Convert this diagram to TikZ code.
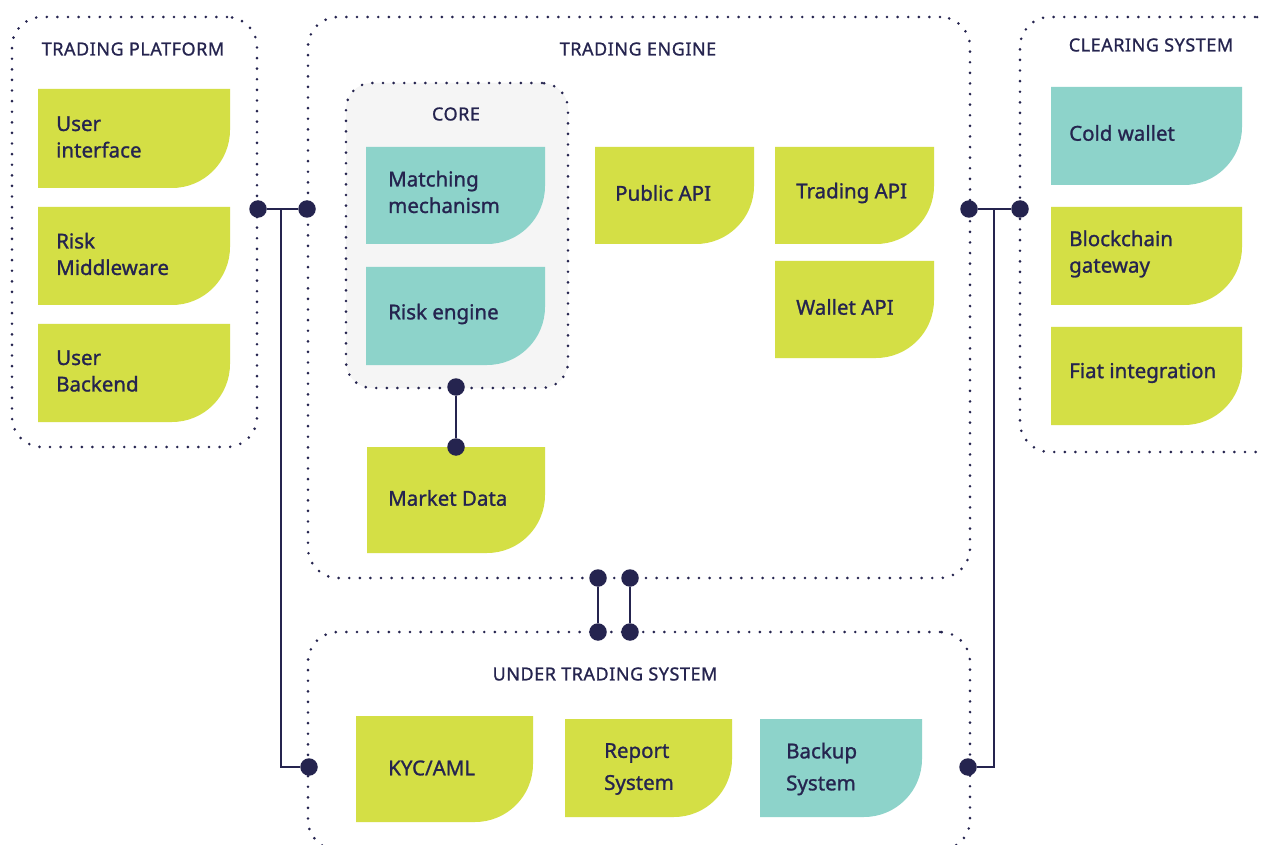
\documentclass[tikz,border=0pt]{standalone}
\usepackage{fontspec}
\setmainfont{Noto Sans}
\newfontfamily\medfont{Noto Sans}[FakeBold=1.2]
\newfontfamily\titfont{Noto Sans}[FakeBold=1.0,LetterSpace=3]
\usetikzlibrary{calc}
\definecolor{navy}{HTML}{25244F}
\definecolor{lime}{HTML}{D4DF45}
\definecolor{teal}{HTML}{8DD3CA}
\definecolor{coregray}{HTML}{F5F5F5}
\tikzset{
  cont/.style={draw=navy, line width=2.9pt, dash pattern=on 0pt off 10.6pt, line cap=round, rounded corners=30pt, inner sep=0pt},
  title/.style={text=navy, font=\titfont\fontsize{18}{22}\selectfont, inner sep=0pt},
  cardtext/.style={text=navy, font=\medfont\fontsize{20.5}{26.5}\selectfont, align=left, anchor=west, inner sep=0pt},
  widetext/.style={cardtext, font=\medfont\fontsize{20.5}{32}\selectfont},
  jdot/.style={circle, fill=navy, minimum size=17.5pt, inner sep=0pt},
  conn/.style={draw=navy, line width=2.3pt},
}
\newcommand\mycard[5]{%
  \fill[#5] (#1,#2) -- (#3,#2) -- (#3,#4-58) .. controls (#3,#4-26) and (#3-26,#4) .. (#3-58,#4) -- (#1,#4) -- cycle;}
\begin{document}
\begin{tikzpicture}[x=1pt,y=-1pt]
\useasboundingbox (0,0) rectangle (1262,845);
\clip (0,0) rectangle (1262,845);
\fill[white] (0,0) rectangle (1262,845);
% containers
\node[cont, minimum width=245pt, minimum height=430pt] (tp) at (134.5,232) {};
\node[cont, minimum width=662pt, minimum height=561pt] (te) at (639,297.5) {};
\node[cont, fill=coregray, rounded corners=26pt, minimum width=222pt, minimum height=305pt] (core) at (457,235.5) {};
\node[cont, minimum width=265pt, minimum height=435pt] (cs) at (1152.5,234.5) {};
\node[cont, minimum width=662pt, minimum height=218pt] (uts) at (639,741) {};
% titles
\node[title] (ttp) at (133,49) {TRADING PLATFORM};
\node[title] (tte) at (638,49) {TRADING ENGINE};
\node[title] (tcore) at (456,114) {CORE};
\node[title] (tcs) at (1151,45) {CLEARING SYSTEM};
\node[title] (tuts) at (605,674) {UNDER TRADING SYSTEM};
% cards
\mycard{38}{89}{230}{188}{lime}
\mycard{38}{207}{230}{305}{lime}
\mycard{38}{324}{230}{422}{lime}
\mycard{366}{147}{545}{244}{teal}
\mycard{366}{267}{545}{365}{teal}
\mycard{367}{447}{545}{553}{lime}
\mycard{595}{147}{754}{244}{lime}
\mycard{775}{147}{934}{244}{lime}
\mycard{775}{261}{934}{358}{lime}
\mycard{1051}{87}{1242}{185}{teal}
\mycard{1051}{207}{1242}{305}{lime}
\mycard{1051}{327}{1242}{425}{lime}
\mycard{356}{716}{533}{822}{lime}
\mycard{565}{719}{732}{817}{lime}
\mycard{760}{719}{922}{817}{teal}
% card texts
\node[cardtext] (ui) at (56,137) {User\\interface};
\node[cardtext] (rm) at (56,254) {Risk\\Middleware};
\node[cardtext] (ub) at (56,371) {User\\Backend};
\node[cardtext] (mm) at (388,192) {Matching\\mechanism};
\node[cardtext] (re) at (388,314) {Risk engine};
\node[cardtext] (md) at (388,498) {Market Data};
\node[cardtext] (pa) at (615,193) {Public API};
\node[cardtext] (ta) at (796,193) {Trading API};
\node[cardtext] (wa) at (796,307) {Wallet API};
\node[cardtext] (cw) at (1069,133) {Cold wallet};
\node[cardtext] (bg) at (1069,254) {Blockchain\\gateway};
\node[cardtext] (fi) at (1069,373) {Fiat integration};
\node[cardtext] (kyc) at (388,768) {KYC/AML};
\node[widetext] (rs) at (604,769) {Report\\System};
\node[widetext] (bs) at (786,769) {Backup\\System};
% connector dots
\node[jdot] (d1) at (258,209) {};
\node[jdot] (d2) at (307,209) {};
\node[jdot] (d3) at (309,767) {};
\node[jdot] (d4) at (969,209) {};
\node[jdot] (d5) at (1020,209) {};
\node[jdot] (d6) at (968,767) {};
\node[jdot] (d7) at (598,578) {};
\node[jdot] (d8) at (598,632) {};
\node[jdot] (d9) at (630,578) {};
\node[jdot] (d10) at (630,632) {};
\node[jdot] (d11) at (456,387) {};
\node[jdot] (d12) at (456,447) {};
\coordinate (j1) at (281,209);
\coordinate (j2) at (994,209);
% connectors
\draw[conn] (d1) -- (d2);
\draw[conn] (j1) |- (d3);
\draw[conn] (d4) -- (d5);
\draw[conn] (j2) |- (d6);
\draw[conn] (d7) -- (d8);
\draw[conn] (d9) -- (d10);
\draw[conn] (d11) -- (d12);
\end{tikzpicture}
\end{document}
